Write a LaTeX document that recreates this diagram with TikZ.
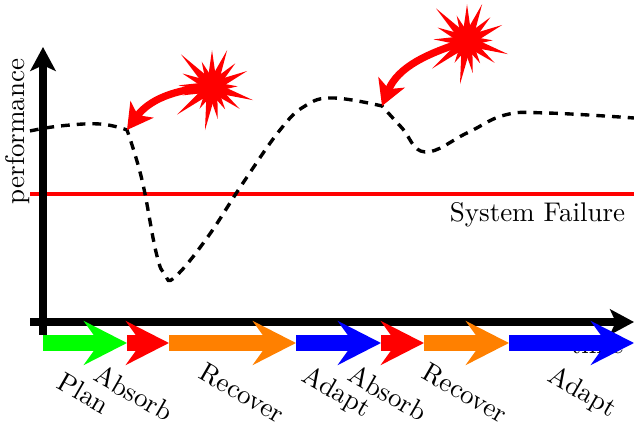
\documentclass[tikz,border=0pt]{standalone}
\usetikzlibrary{arrows.meta}

\tikzset{
    axisline/.style = {black, line width = 2.7pt, -{Stealth[length = 8.5pt, width = 9pt, inset = 2pt]}},
    phase/.style = {#1, line width = 6pt, -{Stealth[length = 15.3pt, width = 15.5pt, inset = 5.5pt]}},
    phaselabel/.style = {rotate = -30, inner sep = 0pt},
    hitarrow/.style = {red, line width = 2.6pt, -{Stealth[length = 9pt, width = 10pt, inset = 2.5pt]}},
    burst/.pic = {
        \fill [red] (0, 0) circle (1.35);
        \foreach \tx/\ty in {0/3.83, 1.57/3.83, 2.43/2.47, 3.67/1.67, 2.67/.07, 4.27/-1.37, 2.87/-2.27, 1.37/-2.33, .6/-3.33, -.73/-4.5, -1.3/-2.27, -3.63/-2.87, -3.07/-.87, -3.5/.17, -3.07/1.4, -3.23/3.4, -1.07/2.63} {
            \fill [red] (\tx, \ty) -- ({-\ty*.55/veclen(\tx,\ty)}, {\tx*.55/veclen(\tx,\ty)}) -- ({\ty*.55/veclen(\tx,\ty)}, {-\tx*.55/veclen(\tx,\ty)}) -- cycle;
        }
    }
}

\begin{document}
\begin{tikzpicture}[x = .125cm, y = .125cm, every node/.style = {scale = .96}]
    \useasboundingbox (0, 0) rectangle (63.4, 42.8);

    % phase limits on the time line
    \foreach \n/\x in {0/4.3, 1/12.7, 2/16.9, 3/29.6, 4/38.1, 5/42.4, 6/50.9, 7/63.4} {
        \coordinate (p\n) at (\x, 8.5);
    }
    \coordinate (hitA) at (12.7, 29.8);
    \coordinate (hitB) at (38.2, 32.2);
    \coordinate (burstA) at (21.2, 34.1);
    \coordinate (burstB) at (46.7, 38.7);

    \coordinate (xstart) at (3, 10.6);
    \coordinate (xend) at (63.4, 10.6);
    \coordinate (ystart) at (4.3, 9.3);
    \coordinate (yend) at (4.3, 38.1);
    \coordinate (failstart) at (3, 23.4);
    \coordinate (failend) at (63.4, 23.4);

    \draw [red, line width = 1.1pt] (failstart) -- (failend);
    \draw [axisline] (ystart) -- (yend);
    \draw [axisline] (xstart) -- (xend);

    \draw [black, line width = 1.2pt, dash pattern = on 3.1pt off 2.5pt]
        plot [smooth, tension = .7] coordinates {(3, 29.7) (6, 30.2) (10, 30.4) (hitA)}
        -- plot [smooth, tension = .7] coordinates {(hitA) (14.2, 24.8) (15.6, 17.6) (16.5, 15.3) (17.5, 15.1)
            (20.7, 19) (24.3, 24.5) (28, 29.8) (30.5, 32.2) (33.3, 33) (hitB)}
        -- plot [smooth, tension = .7] coordinates {(hitB) (40.2, 30) (42.5, 27.6)
            (46.7, 29.5) (50.5, 31.3) (54.7, 31.5) (63.4, 31)};

    \node (failure) at (53.75, 21.3) {System Failure};
    \node (performance) [rotate = 90, inner sep = 0pt] at (1.8, 29.65) {performance};
    \node (time) at (59.7, 8.3) {time};

    %%%%%%%%%%%%%%%%%%%%
    \draw [phase = green] (p0) -- (p1);
    \draw [phase = red] (p1) -- (p2);
    \draw [phase = orange] (p2) -- (p3);
    \draw [phase = blue] (p3) -- (p4);
    \draw [phase = red] (p4) -- (p5);
    \draw [phase = orange] (p5) -- (p6);
    \draw [phase = blue] (p6) -- (p7);

    \node (plan) [phaselabel] at (8.4, 3.5) {Plan};
    \node (absorbA) [phaselabel] at (13.4, 3.5) {Absorb};
    \node (recoverA) [phaselabel] at (24.2, 3.5) {Recover};
    \node (adaptA) [phaselabel] at (33.6, 3.5) {Adapt};
    \node (absorbB) [phaselabel] at (38.8, 3.5) {Absorb};
    \node (recoverB) [phaselabel] at (46.5, 3.5) {Recover};
    \node (adaptB) [phaselabel] at (58.2, 3.5) {Adapt};

    %%%%%%%%%%%%%%%%%%%%
    \draw [hitarrow] (burstA) to [out = 183, in = 54] (hitA);
    \draw [hitarrow] (burstB) to [out = 197, in = 68] (hitB);
    \pic at (burstA) {burst};
    \pic at (burstB) {burst};
\end{tikzpicture}
\end{document}
